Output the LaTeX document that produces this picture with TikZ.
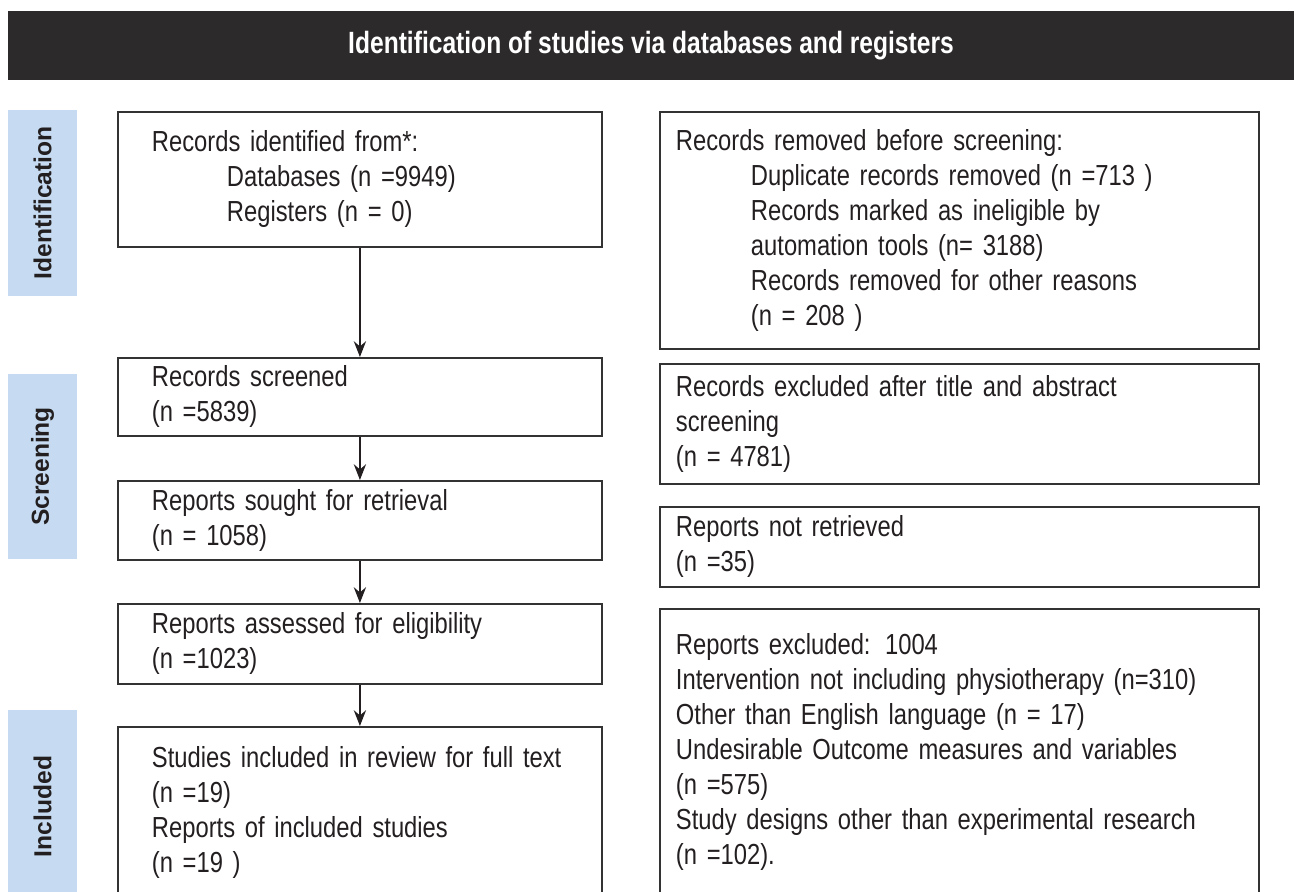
\documentclass[tikz,border=0pt]{standalone}
\usepackage{fontspec}
\usetikzlibrary{arrows.meta}
\setmainfont{Liberation Sans}
\newfontfamily\narrowfam[FakeStretch=0.82]{Liberation Sans}
\newfontfamily\headfam[FakeStretch=0.8]{Liberation Sans}
\newcommand{\boxtext}{\narrowfam\fontsize{16.5pt}{19.9pt}\selectfont\spaceskip=0.2em plus 0.05em minus 0.02em\relax}
\newcommand{\headtext}{\headfam\bfseries\fontsize{17.5pt}{20pt}\selectfont}
\newcommand{\phasetext}{\bfseries\fontsize{14pt}{16pt}\selectfont}
\newcommand{\ind}{\hspace*{1.5cm}}
\definecolor{bandgray}{HTML}{2D2A2B}
\definecolor{phaseblue}{HTML}{C6DBF1}
\definecolor{textgray}{HTML}{231F20}
\definecolor{boxgray}{HTML}{333333}
\begin{document}
\begin{tikzpicture}[x=0.02cm,y=-0.02cm]
  \tikzstyle{box}=[draw=boxgray, line width=1.1pt, anchor=north west, align=left, font=\boxtext, text=textgray]
  \tikzstyle{lbox}=[box, text width=8.32cm, inner xsep=0.68cm]
  \tikzstyle{rbox}=[box, text width=11.34cm, inner xsep=0.32cm]
  \tikzstyle{phase}=[fill=phaseblue, rotate=90, minimum height=1.38cm, font=\phasetext, text=textgray]
  \tikzstyle{edge}=[draw, line width=0.8pt, textgray, -{Stealth[length=9pt,width=7pt,inset=3pt]}]
  \useasboundingbox (0,0) rectangle (1298,892);
  % header band
  \node [fill=bandgray, minimum width=25.72cm, minimum height=1.38cm, font=\headtext, text=white] (head) at (651,45.5) {Identification of studies via databases and registers};
  % phase labels
  \node [phase, minimum width=3.72cm] (pid) at (42.5,203) {Identification};
  \node [phase, minimum width=3.70cm] (pscr) at (42.5,466.5) {Screening};
  \node [phase, minimum width=3.86cm] (pinc) at (42.5,806.5) {Included};
  % main column
  \node [lbox, minimum height=2.70cm] (ident) at (117,111) {Records identified from*:\\ \ind Databases (n =9949)\\ \ind Registers (n = 0)};
  \node [lbox, minimum height=1.56cm] (screen) at (117,357) {Records screened\\ (n =5839)};
  \node [lbox, minimum height=1.58cm] (sought) at (117,480) {Reports sought for retrieval\\ (n = 1058)};
  \node [lbox, minimum height=1.60cm] (assess) at (117,603) {Reports assessed for eligibility\\ (n =1023)};
  \node [lbox, minimum height=3.42cm] (incl) at (117,726) {Studies included in review for full text\\ (n =19)\\ Reports of included studies\\ (n =19 )};
  % side column
  \node [rbox, minimum height=4.74cm] (removed) at (659,111) {Records removed before screening:\\ \ind Duplicate records removed (n =713 )\\ \ind Records marked as ineligible by\\ \ind automation tools (n= 3188)\\ \ind Records removed for other reasons\\ \ind (n = 208 )};
  \node [rbox, minimum height=2.40cm] (excl) at (659,363) {Records excluded after title and abstract\\ screening\\ (n = 4781)};
  \node [rbox, minimum height=1.60cm] (notret) at (659,506) {Reports not retrieved\\ (n =35)};
  \node [rbox, inner ysep=0.5cm] (repexcl) at (659,608) {Reports excluded: 1004\\ Intervention not including physiotherapy (n=310)\\ Other than English language (n = 17)\\ Undesirable Outcome measures and variables\\ (n =575)\\ Study designs other than experimental research\\ (n =102).\\[40pt]\mbox{}};
  % arrows
  \path[edge] (ident) edge (screen);
  \path[edge] (screen) edge (sought);
  \path[edge] (sought) edge (assess);
  \path[edge] (assess) edge (incl);
\end{tikzpicture}
\end{document}
